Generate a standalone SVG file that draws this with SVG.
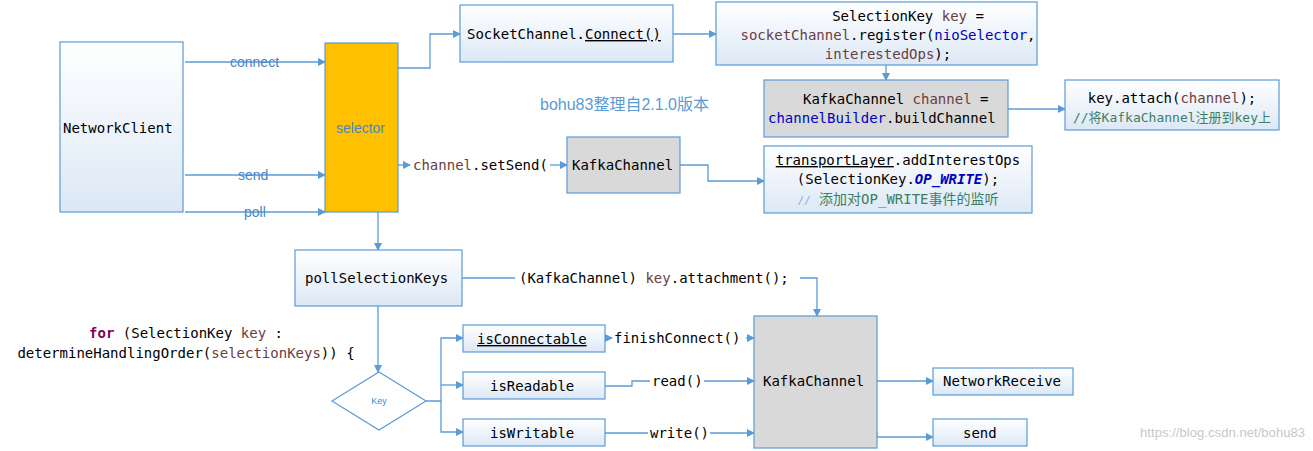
<svg xmlns="http://www.w3.org/2000/svg" width="1313" height="451" viewBox="0 0 1313 451">
<defs>
<linearGradient id="g" x1="0" y1="0" x2="0" y2="1"><stop offset="0" stop-color="#ffffff"/><stop offset="1" stop-color="#dce8f6"/></linearGradient>
<marker id="a" markerWidth="8" markerHeight="8" refX="7" refY="4" orient="auto" markerUnits="userSpaceOnUse"><path d="M0,0 L8,4 L0,8 z" fill="#5b9bd5"/></marker>
<style>
.b{fill:url(#g);stroke:#5b9bd5;stroke-width:1.2}
.gr{fill:#d9d9d9;stroke:#5b9bd5;stroke-width:1.2}
.t{font-family:"DejaVu Sans Mono","Liberation Mono",monospace;font-size:14px;fill:#000}
.c{stroke:#5b9bd5;stroke-width:1.3;fill:none;marker-end:url(#a)}
.n{stroke:#5b9bd5;stroke-width:1.3;fill:none}
.lb{font-family:"Liberation Sans",sans-serif;font-size:14px;fill:#4a86c5}
.v{fill:#6a3e3e}.bl{fill:#0000c0}
</style>
</defs>
<g id="connectors">
<path class="c" d="M185,62 H325"/><text class="lb" x="230" y="67">connect</text>
<path class="c" d="M185,175 H325"/><text class="lb" x="238" y="180">send</text>
<path class="c" d="M185,212 H325"/><text class="lb" x="244" y="217">poll</text>
<path class="c" d="M398,68 H430 V34 H460"/>
<path class="c" d="M673,34 H716"/>
<path class="c" d="M886,65 V80"/>
<path class="c" d="M1008,109 H1065"/>
<path class="c" d="M398,165 H410"/>
<path class="c" d="M550,165 H567"/>
<path class="c" d="M680,165 H708 V181 H764"/>
<path class="c" d="M378,212 V250"/>
<path class="n" d="M462,278 H515"/>
<path class="c" d="M800,278 H817 V316"/>
<path class="c" d="M378,306 V372"/>
<path class="c" d="M426,401 H441 V338 H463"/>
<path class="c" d="M441,385 H463"/>
<path class="c" d="M441,401 V432 H463"/>
<path class="c" d="M605,338 H612"/>
<path class="c" d="M746,338 H754"/>
<path class="n" d="M605,386 H632 V381 H650"/>
<path class="c" d="M704,381 H754"/>
<path class="n" d="M605,433 H648"/>
<path class="c" d="M710,433 H754"/>
<path class="c" d="M877,381 H933"/>
<path class="c" d="M877,432 V437 H933"/>
</g>
<g id="networkclient"><rect class="b" x="60" y="42" width="123" height="170"/><text class="t" x="63" y="133">NetworkClient</text></g>
<g id="selector"><rect x="325" y="43" width="73" height="169" fill="#ffc000" stroke="#5b9bd5" stroke-width="1.2"/><text x="336" y="133" font-family="Liberation Sans,sans-serif" font-size="14" fill="#4a86c5">selector</text></g>
<g id="socketchannel"><rect class="b" x="460" y="5" width="213" height="57"/><text class="t" x="467" y="39">SocketChannel.<tspan text-decoration="underline">Connect()</tspan></text></g>
<g id="selectionkey"><rect class="b" x="716" y="2" width="321" height="63"/>
<text class="t" text-anchor="middle" x="908" y="21">SelectionKey <tspan class="v">key</tspan> =</text>
<text class="t" text-anchor="middle" x="888" y="40"><tspan class="v">socketChannel</tspan>.register(<tspan class="bl">nioSelector</tspan>,</text>
<text class="t" text-anchor="middle" x="888" y="59"><tspan class="v">interestedOps</tspan>);</text></g>
<text x="540" y="110" font-family="Liberation Sans,'Noto Sans CJK SC',sans-serif" font-size="16" fill="#5b9bd5">bohu83整理自2.1.0版本</text>
<g id="buildchannel"><rect class="gr" x="764" y="80" width="244" height="57"/>
<text class="t" x="803" y="104">KafkaChannel <tspan class="v">channel</tspan> =</text>
<text class="t" x="768" y="123"><tspan class="bl">channelBuilder</tspan>.buildChannel</text></g>
<g id="attach"><rect class="b" x="1065" y="80" width="214" height="50"/>
<text class="t" text-anchor="middle" x="1172" y="103">key.attach(<tspan class="v">channel</tspan>);</text>
<text text-anchor="middle" x="1172" y="122" font-size="13" font-family="'DejaVu Sans Mono','Noto Sans CJK SC',monospace" fill="#3f7f5f">//将KafkaChannel注册到key上</text></g>
<text class="t" x="413" y="170"><tspan class="v">channel</tspan>.setSend(</text>
<g id="kafkachannel1"><rect class="gr" x="567" y="137" width="113" height="56"/><text class="t" x="572" y="170">KafkaChannel</text></g>
<g id="transport"><rect class="b" x="764" y="146" width="268" height="67"/>
<text class="t" text-anchor="middle" x="898" y="165"><tspan text-decoration="underline">transportLayer</tspan>.addInterestOps</text>
<text class="t" text-anchor="middle" x="898" y="184">(SelectionKey.<tspan class="bl" font-weight="bold" font-style="italic">OP_WRITE</tspan>);</text>
<text x="898" y="204" text-anchor="middle" font-family="'DejaVu Sans Mono','Noto Sans CJK SC',monospace" font-size="14" fill="#3f7f5f"><tspan fill="#8fb0d8" font-size="11">//</tspan> 添加对OP_WRITE事件的监听</text></g>
<g id="pollselectionkeys"><rect class="b" x="295" y="250" width="167" height="56"/><text class="t" x="305" y="283">pollSelectionKeys</text></g>
<text class="t" x="519" y="283">(KafkaChannel) <tspan class="v">key</tspan>.attachment();</text>
<text class="t" text-anchor="middle" x="186" y="338"><tspan fill="#7f0055" font-weight="bold">for</tspan> (SelectionKey <tspan class="v">key</tspan> :</text>
<text class="t" text-anchor="middle" x="186" y="358">determineHandlingOrder(<tspan class="v">selectionKeys</tspan>)) {</text>
<g id="key"><path d="M332,401 L379,372 L426,401 L379,430 Z" fill="#fff" stroke="#5b9bd5" stroke-width="1.2"/><text x="379" y="404" text-anchor="middle" font-family="Liberation Sans,sans-serif" font-size="9" fill="#4a86c5">Key</text></g>
<g id="isconnectable"><rect class="b" x="463" y="325" width="142" height="27"/><text class="t" x="477" y="344" text-decoration="underline">isConnectable</text></g>
<text class="t" x="614" y="343">finishConnect()</text>
<g id="isreadable"><rect class="b" x="463" y="372" width="142" height="27"/><text class="t" x="490" y="391">isReadable</text></g>
<text class="t" x="652" y="386">read()</text>
<g id="iswritable"><rect class="b" x="463" y="419" width="142" height="27"/><text class="t" x="490" y="438">isWritable</text></g>
<text class="t" x="650" y="438">write()</text>
<g id="kafkachannel2"><rect class="gr" x="754" y="316" width="123" height="132"/><text class="t" x="763" y="386">KafkaChannel</text></g>
<g id="networkreceive"><rect class="b" x="933" y="368" width="140" height="27"/><text class="t" x="943" y="386">NetworkReceive</text></g>
<g id="send"><rect class="b" x="933" y="419" width="94" height="27"/><text class="t" x="963" y="438">send</text></g>
<text x="1140" y="437" font-family="Liberation Sans,sans-serif" font-size="13" fill="#c8c8c8" textLength="165">https://blog.csdn.net/bohu83</text>
</svg>
